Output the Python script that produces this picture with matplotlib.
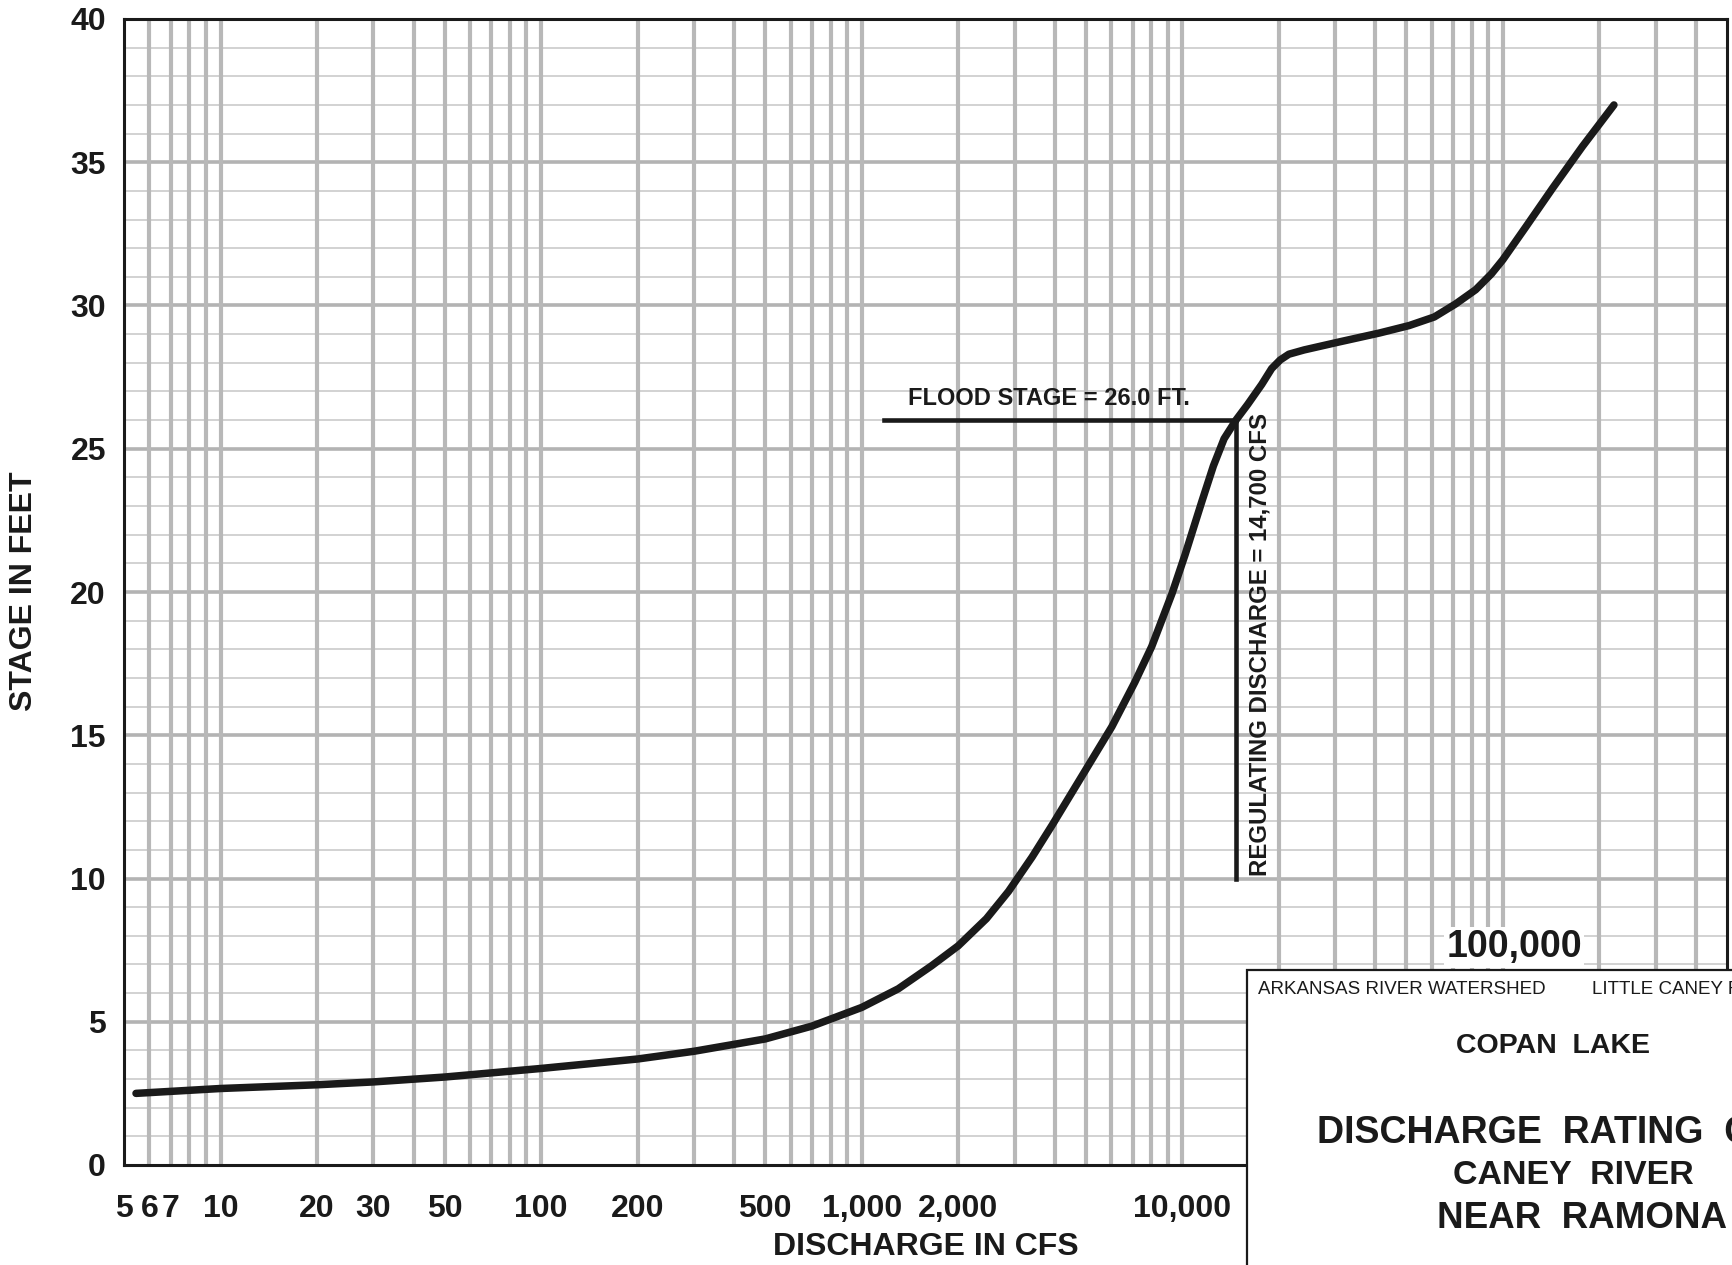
"""Discharge rating curve, Caney River near Ramona (Copan Lake)."""

import matplotlib.pyplot as plt
from matplotlib.patches import Rectangle

plt.rcParams["font.family"] = ["Liberation Sans", "DejaVu Sans"]

# rating curve
discharge_cfs = [5.45, 10, 20, 30, 50, 100, 200, 300, 500, 700, 1000, 1300,
                 1650, 2000, 2450, 2870, 3400, 3920, 4970, 6030, 7110, 8030,
                 9290, 10200, 11500, 12500, 13500, 14700, 16000, 17700,
                 19000, 20200, 21500, 24000, 30900, 41200, 51000, 61100,
                 71100, 82200, 92000, 100000, 118000, 143000, 177000, 222000]
stage_ft = [2.5, 2.67, 2.8, 2.9, 3.07, 3.37, 3.7, 3.97, 4.4, 4.85, 5.5, 6.15,
            6.95, 7.65, 8.6, 9.55, 10.75, 11.85, 13.75, 15.3, 16.85, 18.1,
            19.95, 21.3, 23.15, 24.4, 25.35, 26.0, 26.55, 27.25,
            27.8, 28.1, 28.3, 28.45, 28.73, 29.04, 29.3, 29.6,
            30.05, 30.55, 31.1, 31.6, 32.75, 34.1, 35.55, 37.0]

flood_stage = 26.0
regulating_discharge = 14700
flood_line_start = 1170
regulating_line_bottom = 10.0

x_ticks = [5, 6, 7, 10, 20, 30, 50, 100, 200, 500, 1000, 2000, 10000]
x_tick_labels = ["5", "6", "7", "10", "20", "30", "50", "100", "200", "500",
                 "1,000", "2,000", "10,000"]
y_ticks = [0, 5, 10, 15, 20, 25, 30, 35, 40]

INK = "#1a1a1a"
W, H = 1733, 1265

fig = plt.figure(figsize=(W / 100, H / 100), dpi=100)
ax = fig.add_axes([124 / W, 1 - 1165 / H, (1727 - 124) / W, (1165 - 19) / H])
ax.set_xscale("log")
ax.set_xlim(5, 500000)
ax.set_ylim(0, 40)

# log paper grid: 1..9 in every decade, one line per foot
vgrid = [n * 10 ** k for k in range(0, 6) for n in range(1, 10)
         if 5 < n * 10 ** k < 500000]
ax.hlines([v for v in range(1, 40) if v % 5], 5, 500000,
          colors="#d2d2d2", lw=1.4, zorder=0.8)
ax.hlines([v for v in range(5, 40, 5)], 5, 500000,
          colors="#b3b3b3", lw=2.6, zorder=0.9)
ax.vlines(vgrid, 0, 40, colors="#b8b8b8", lw=3.0, zorder=1)

ax.plot(discharge_cfs, stage_ft, color=INK, lw=5.4,
        solid_capstyle="round", solid_joinstyle="round", zorder=3)

# flood stage and regulating discharge markers
ax.plot([flood_line_start, regulating_discharge], [flood_stage, flood_stage],
        color=INK, lw=3.3, zorder=3)
ax.plot([regulating_discharge, regulating_discharge],
        [regulating_line_bottom, flood_stage], color=INK, lw=3.3, zorder=3)
ax.text(1390, 26.75, f"FLOOD STAGE = {flood_stage:.1f} FT.", ha="left",
        va="center", fontsize=17, fontweight="bold", color=INK, zorder=4)
ax.text(17500, 10.1, f"REGULATING DISCHARGE = {regulating_discharge:,} CFS",
        rotation=90, ha="center", va="bottom", fontsize=17.3,
        fontweight="bold", color=INK, zorder=4)

ax.set_xticks(x_ticks)
ax.set_xticklabels(x_tick_labels)
ax.xaxis.set_minor_locator(plt.NullLocator())
ax.set_yticks(y_ticks)
ax.tick_params(length=0, labelsize=23, colors=INK)
ax.tick_params(axis="x", pad=21)
ax.tick_params(axis="y", pad=13)
for lab in ax.get_xticklabels() + ax.get_yticklabels():
    lab.set_fontweight("bold")
for side in ax.spines.values():
    side.set_linewidth(2.2)
    side.set_color(INK)

# 100,000 sits above the title block
ax.annotate("100,000", xy=(100000, 7.6), xytext=(8, 0),
            textcoords="offset points", ha="center", va="center",
            fontsize=27, fontweight="bold", color=INK, zorder=5,
            bbox=dict(fc="white", ec="none", pad=1.5))

fig.text(24 / W, 1 - 591 / H, "STAGE IN FEET", rotation=90, ha="center",
         va="center", fontsize=23, fontweight="bold", color=INK)
fig.text(926 / W, 1 - 1247 / H, "DISCHARGE IN CFS", ha="center",
         va="center", fontsize=23, fontweight="bold", color=INK)

# title block in the lower right corner
fig.add_artist(Rectangle((1247 / W, -0.1), 0.5, 0.1 + (H - 970) / H,
                         transform=fig.transFigure, fc="white", ec=INK,
                         lw=1.6, zorder=10, clip_on=False))
block = [
    (1258, 990, "ARKANSAS RIVER WATERSHED", 13.5, "normal"),
    (1592, 990, "LITTLE CANEY RIVER", 13.5, "normal"),
    (1456, 1046, "COPAN  LAKE", 20.5, "bold"),
    (1317, 1133, "DISCHARGE  RATING  CURVE", 27, "bold"),
    (1453, 1175, "CANEY  RIVER", 24.5, "bold"),
    (1437, 1219, "NEAR  RAMONA", 26.5, "bold"),
]
for px, py, label, size, weight in block:
    fig.text(px / W, 1 - py / H, label, ha="left", va="center",
             fontsize=size, fontweight=weight, color=INK, zorder=11)

fig.savefig("out.png", dpi=100)
